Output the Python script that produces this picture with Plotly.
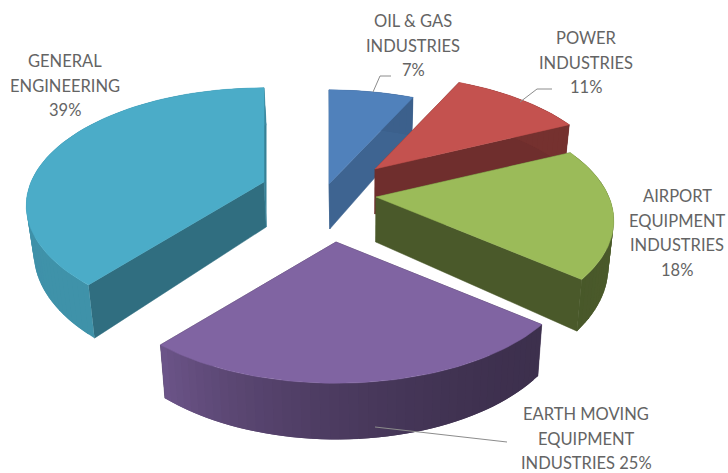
import math
import plotly.graph_objects as go

categories = ["OIL & GAS INDUSTRIES", "POWER INDUSTRIES", "AIRPORT EQUIPMENT INDUSTRIES",
              "EARTH MOVING EQUIPMENT INDUSTRIES", "GENERAL ENGINEERING"]
shares = [7, 11, 18, 25, 39]
label_lines = [["OIL & GAS", "INDUSTRIES", "7%"],
               ["POWER", "INDUSTRIES", "11%"],
               ["AIRPORT", "EQUIPMENT", "INDUSTRIES", "18%"],
               ["EARTH MOVING", "EQUIPMENT", "INDUSTRIES 25%"],
               ["GENERAL", "ENGINEERING", "39%"]]

top_colors = ["#5081BB", "#C4524F", "#9BBB59", "#8064A2", "#4BACC8"]
apex = [(329, 184), (375, 169), (376, 197), (336, 242), (264, 182)]
label_pos = [(413, 21), (586, 38), (677, 196), (586, 414), (65, 61)]
leaders = [[(373, 92), (380, 76), (391, 76)],
           [(520, 102), (537, 89), (552, 89)],
           None,
           [(375, 427), (507, 442)],
           None]
draw_order = [0, 1, 2, 4, 3]
# wall shade multipliers at start/end of each slice
wall_shade = [(.75, .75), (.6, .6), (.5, .47), (.48, .85), (.85, .8)]
cut_shade = [(.78, .78), (.57, .57), (.5, .48), (.5, .5), (.64, .75)]

A0, B0, P, DEPTH, VANISH_X, VANISH = 233, 113, 0.2, 45, 365, 0.022


def rgb(h, k):
    return "rgb(%d,%d,%d)" % tuple(min(255, int(int(h[i:i + 2], 16) * k)) for i in (1, 3, 5))


def proj(a, th, r=1.0):
    x, y = r * math.sin(th), r * math.cos(th)
    w = 1 + P * y
    return a[0] + A0 * x / w, a[1] - B0 * y / w


def drop(p, th):
    return (p[0] + (VANISH_X - p[0]) * VANISH, p[1] + DEPTH / (1 + P * math.cos(th)))


def poly(fig, pts, color, width=0.5):
    fig.add_trace(go.Scatter(x=[p[0] for p in pts] + [pts[0][0]], y=[p[1] for p in pts] + [pts[0][1]],
                             mode="lines", fill="toself", fillcolor=color,
                             line=dict(color=color, width=width), hoverinfo="skip", showlegend=False))


fig = go.Figure()
total = sum(shares)
starts = [sum(shares[:i]) / total * 2 * math.pi for i in range(len(shares))]
ends = [sum(shares[:i + 1]) / total * 2 * math.pi for i in range(len(shares))]

for i in draw_order:
    a, t0, t1, col = apex[i], starts[i], ends[i], top_colors[i]
    low = (a[0] + (VANISH_X - a[0]) * VANISH, a[1] + DEPTH)
    # cut faces
    for th, k in ((t0, cut_shade[i][0]), (t1, cut_shade[i][1])):
        e = proj(a, th)
        poly(fig, [a, e, drop(e, th), low], rgb(col, k))
    # outer wall, as overlapping narrow strips
    n = max(6, int((t1 - t0) * 30))
    for j in range(n):
        u0, u1 = j / n, min(1, (j + 2) / n)
        th0, th1 = t0 + (t1 - t0) * u0, t0 + (t1 - t0) * u1
        p0, p1 = proj(a, th0), proj(a, th1)
        k = wall_shade[i][0] + (wall_shade[i][1] - wall_shade[i][0]) * ((j + .5) / n) ** 2
        poly(fig, [p0, p1, drop(p1, th1), drop(p0, th0)], rgb(col, k), width=0)
    # top face
    pts = [a] + [proj(a, t0 + (t1 - t0) * j / 60) for j in range(61)]
    poly(fig, pts, col)

for seg in leaders:
    if seg:
        fig.add_trace(go.Scatter(x=[p[0] for p in seg], y=[p[1] for p in seg], mode="lines",
                                 line=dict(color="#8C8C8C", width=1), hoverinfo="skip", showlegend=False))

annotations = []
for lines, (cx, cy) in zip(label_lines, label_pos):
    for n, t in enumerate(lines):
        annotations.append(dict(x=cx, y=cy + n * 24.6, text=t, showarrow=False, xanchor="center", yanchor="middle",
                                font=dict(family="Lato", size=16.5, color="#646464")))

fig.update_layout(width=728, height=473, margin=dict(l=0, r=0, t=0, b=0), paper_bgcolor="white",
                  plot_bgcolor="white", showlegend=False, annotations=annotations,
                  xaxis=dict(range=[0, 728], visible=False, fixedrange=True),
                  yaxis=dict(range=[473, 0], visible=False, fixedrange=True))
fig.write_html("out.html", config={"displayModeBar": False},
               post_script="document.body.style.margin='0';document.body.style.overflow='hidden';")
